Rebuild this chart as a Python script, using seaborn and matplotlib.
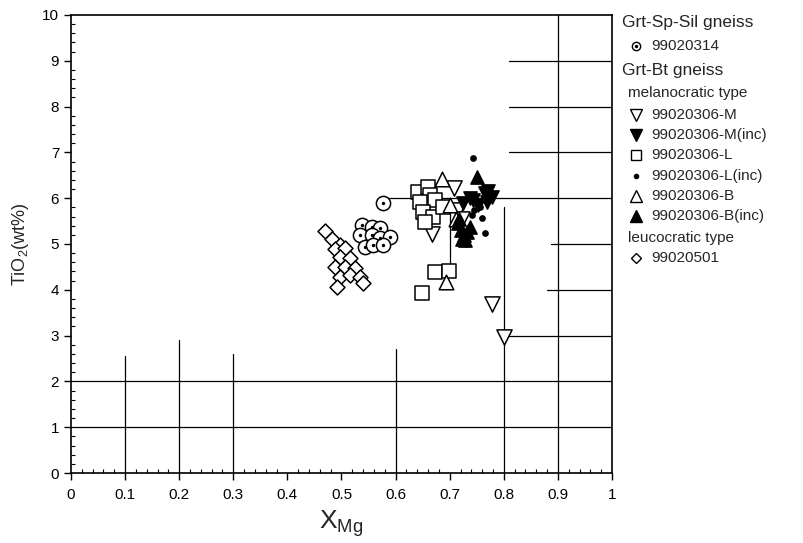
import matplotlib
matplotlib.use("Agg")
import matplotlib.pyplot as plt
from matplotlib.lines import Line2D
from matplotlib.ticker import MultipleLocator, FuncFormatter
import seaborn as sns
import pandas as pd

# --- data ---
x_314 = [0.577, 0.537, 0.556, 0.571, 0.534, 0.556, 0.571, 0.590, 0.543, 0.558, 0.577]
y_314 = [5.90, 5.41, 5.38, 5.35, 5.20, 5.20, 5.13, 5.16, 4.93, 4.98, 4.98]

x_M = [0.667, 0.708, 0.716, 0.722, 0.778, 0.800]
y_M = [5.22, 6.22, 5.75, 5.55, 3.68, 2.97]

x_Minc = [0.725, 0.737, 0.743, 0.765, 0.770, 0.778, 0.769, 0.752]
y_Minc = [5.90, 6.00, 5.96, 6.11, 6.15, 6.03, 5.92, 5.85]

x_L = [0.641, 0.660, 0.664, 0.645, 0.673, 0.651, 0.669, 0.688, 0.654, 0.672, 0.698, 0.649]
y_L = [6.14, 6.25, 6.07, 5.92, 5.96, 5.70, 5.59, 5.80, 5.48, 4.38, 4.42, 3.93]

x_Linc = [0.743, 0.741, 0.759, 0.765, 0.756, 0.730, 0.745, 0.722]
y_Linc = [6.88, 5.63, 5.57, 5.24, 5.81, 5.00, 5.75, 5.95]

x_B = [0.685, 0.694, 0.700, 0.712]
y_B = [6.42, 4.18, 5.85, 5.55]

x_Binc = [0.750, 0.715, 0.720, 0.726, 0.732, 0.722, 0.728, 0.738, 0.718]
y_Binc = [6.47, 5.45, 5.30, 5.20, 5.27, 5.12, 5.08, 5.38, 5.55]

x_501 = [0.470, 0.482, 0.497, 0.488, 0.506, 0.497, 0.516, 0.488, 0.506, 0.525, 0.497, 0.516, 0.534, 0.540, 0.491]
y_501 = [5.28, 5.10, 4.98, 4.88, 4.91, 4.72, 4.69, 4.50, 4.50, 4.48, 4.28, 4.32, 4.28, 4.15, 4.06]

samples = ["99020314", "99020306-M", "99020306-M(inc)", "99020306-L", "99020306-L(inc)",
           "99020306-B", "99020306-B(inc)", "99020501"]
xs = [x_314, x_M, x_Minc, x_L, x_Linc, x_B, x_Binc, x_501]
ys = [y_314, y_M, y_Minc, y_L, y_Linc, y_B, y_Binc, y_501]

# marker, filled, size (plot), size (legend, pt)
estilos = {
    "99020314": ("o", False, 105, 6),
    "99020306-M": ("v", False, 120, 8),
    "99020306-M(inc)": ("v", True, 90, 8),
    "99020306-L": ("s", False, 100, 7),
    "99020306-L(inc)": ("o", True, 14, 3),
    "99020306-B": ("^", False, 110, 8),
    "99020306-B(inc)": ("^", True, 90, 8),
    "99020501": ("D", False, 58, 5.5),
}

filas = []
for s, xx, yy in zip(samples, xs, ys):
    for a, b in zip(xx, yy):
        filas.append({"sample": s, "XMg": a, "TiO2": b})
df = pd.DataFrame(filas)

sns.set_theme(style="ticks")
plt.rcParams["font.family"] = ["Liberation Sans", "DejaVu Sans"]
plt.rcParams["mathtext.fontset"] = "custom"
plt.rcParams["mathtext.rm"] = "Liberation Sans"
plt.rcParams["mathtext.default"] = "regular"

fig = plt.figure(figsize=(8.04, 5.43), dpi=100)
ax = fig.add_axes([0.0883, 0.1289, 0.6729, 0.8435])

# partial grid as it appears in the original
grid_h = [(1, 0, 1), (2, 0, 1), (3, 0.80, 1), (4, 0.88, 1), (5, 0.887, 1),
          (6, 0.58, 1), (7, 0.81, 1), (8, 0.81, 1), (9, 0.81, 1)]
grid_v = [(0.1, 0, 2.55), (0.2, 0, 2.9), (0.3, 0, 2.6), (0.6, 0, 2.7),
          (0.7, 4.5, 6.0), (0.8, 0, 5.8), (0.9, 0, 10)]
for yv, x0, x1 in grid_h:
    ax.plot([x0, x1], [yv, yv], color="black", lw=0.9, zorder=1)
for xv, y0, y1 in grid_v:
    ax.plot([xv, xv], [y0, y1], color="black", lw=0.9, zorder=1)

for s in samples:
    m, filled, size, _ = estilos[s]
    sub = df[df["sample"] == s]
    sns.scatterplot(data=sub, x="XMg", y="TiO2", ax=ax, marker=m, s=size,
                    facecolor="black" if filled else "white",
                    edgecolor="black", linewidth=1.1, zorder=3, legend=False)
    if s == "99020314":
        sns.scatterplot(data=sub, x="XMg", y="TiO2", ax=ax, marker="o", s=6,
                        color="black", linewidth=0, zorder=4, legend=False)

ax.set_xlim(0, 1)
ax.set_ylim(0, 10)
ax.xaxis.set_major_locator(MultipleLocator(0.1))
ax.xaxis.set_minor_locator(MultipleLocator(0.02))
ax.yaxis.set_major_locator(MultipleLocator(1))
ax.yaxis.set_minor_locator(MultipleLocator(0.2))
ax.xaxis.set_major_formatter(FuncFormatter(lambda v, p: f"{v:g}"))
ax.tick_params(which="major", direction="out", length=5, width=1, labelsize=11,
               color="black", labelcolor="black")
ax.tick_params(which="minor", direction="in", length=3, width=0.8, color="black")
ax.tick_params(top=False, right=False, which="both")
ax.tick_params(axis="x", pad=6)
for sp in ax.spines.values():
    sp.set_visible(True)
    sp.set_color("black")
    sp.set_linewidth(1.2)

ax.set_xlabel(r"$X_{Mg}$", fontsize=19, labelpad=4)
ax.set_ylabel(r"TiO$_2$(wt%)", fontsize=13, labelpad=8)

# legend drawn at the right of the axes
def fx(px):
    return px / 804


def fy(py):
    return 1 - py / 543


fig.text(fx(622), fy(22), "Grt-Sp-Sil gneiss", fontsize=12.5, va="center")
fig.text(fx(622), fy(71), "Grt-Bt gneiss", fontsize=12.5, va="center")
fig.text(fx(628), fy(93), "melanocratic type", fontsize=11, va="center")
fig.text(fx(628), fy(238), "leucocratic type", fontsize=11, va="center")

filas_leyenda = [("99020314", 46), ("99020306-M", 115), ("99020306-M(inc)", 135),
                 ("99020306-L", 155), ("99020306-L(inc)", 176), ("99020306-B", 196),
                 ("99020306-B(inc)", 216), ("99020501", 258)]
for s, py in filas_leyenda:
    m, filled, _, ms = estilos[s]
    fig.add_artist(Line2D([fx(636)], [fy(py)], transform=fig.transFigure, marker=m,
                          markersize=ms, markerfacecolor="black" if filled else "white",
                          markeredgecolor="black", markeredgewidth=1.0, linestyle="none"))
    if s == "99020314":
        fig.add_artist(Line2D([fx(636)], [fy(py)], transform=fig.transFigure, marker="o",
                              markersize=1.5, color="black", linestyle="none"))
    fig.text(fx(651), fy(py), s, fontsize=11, va="center")

fig.savefig("out.png", dpi=100)
